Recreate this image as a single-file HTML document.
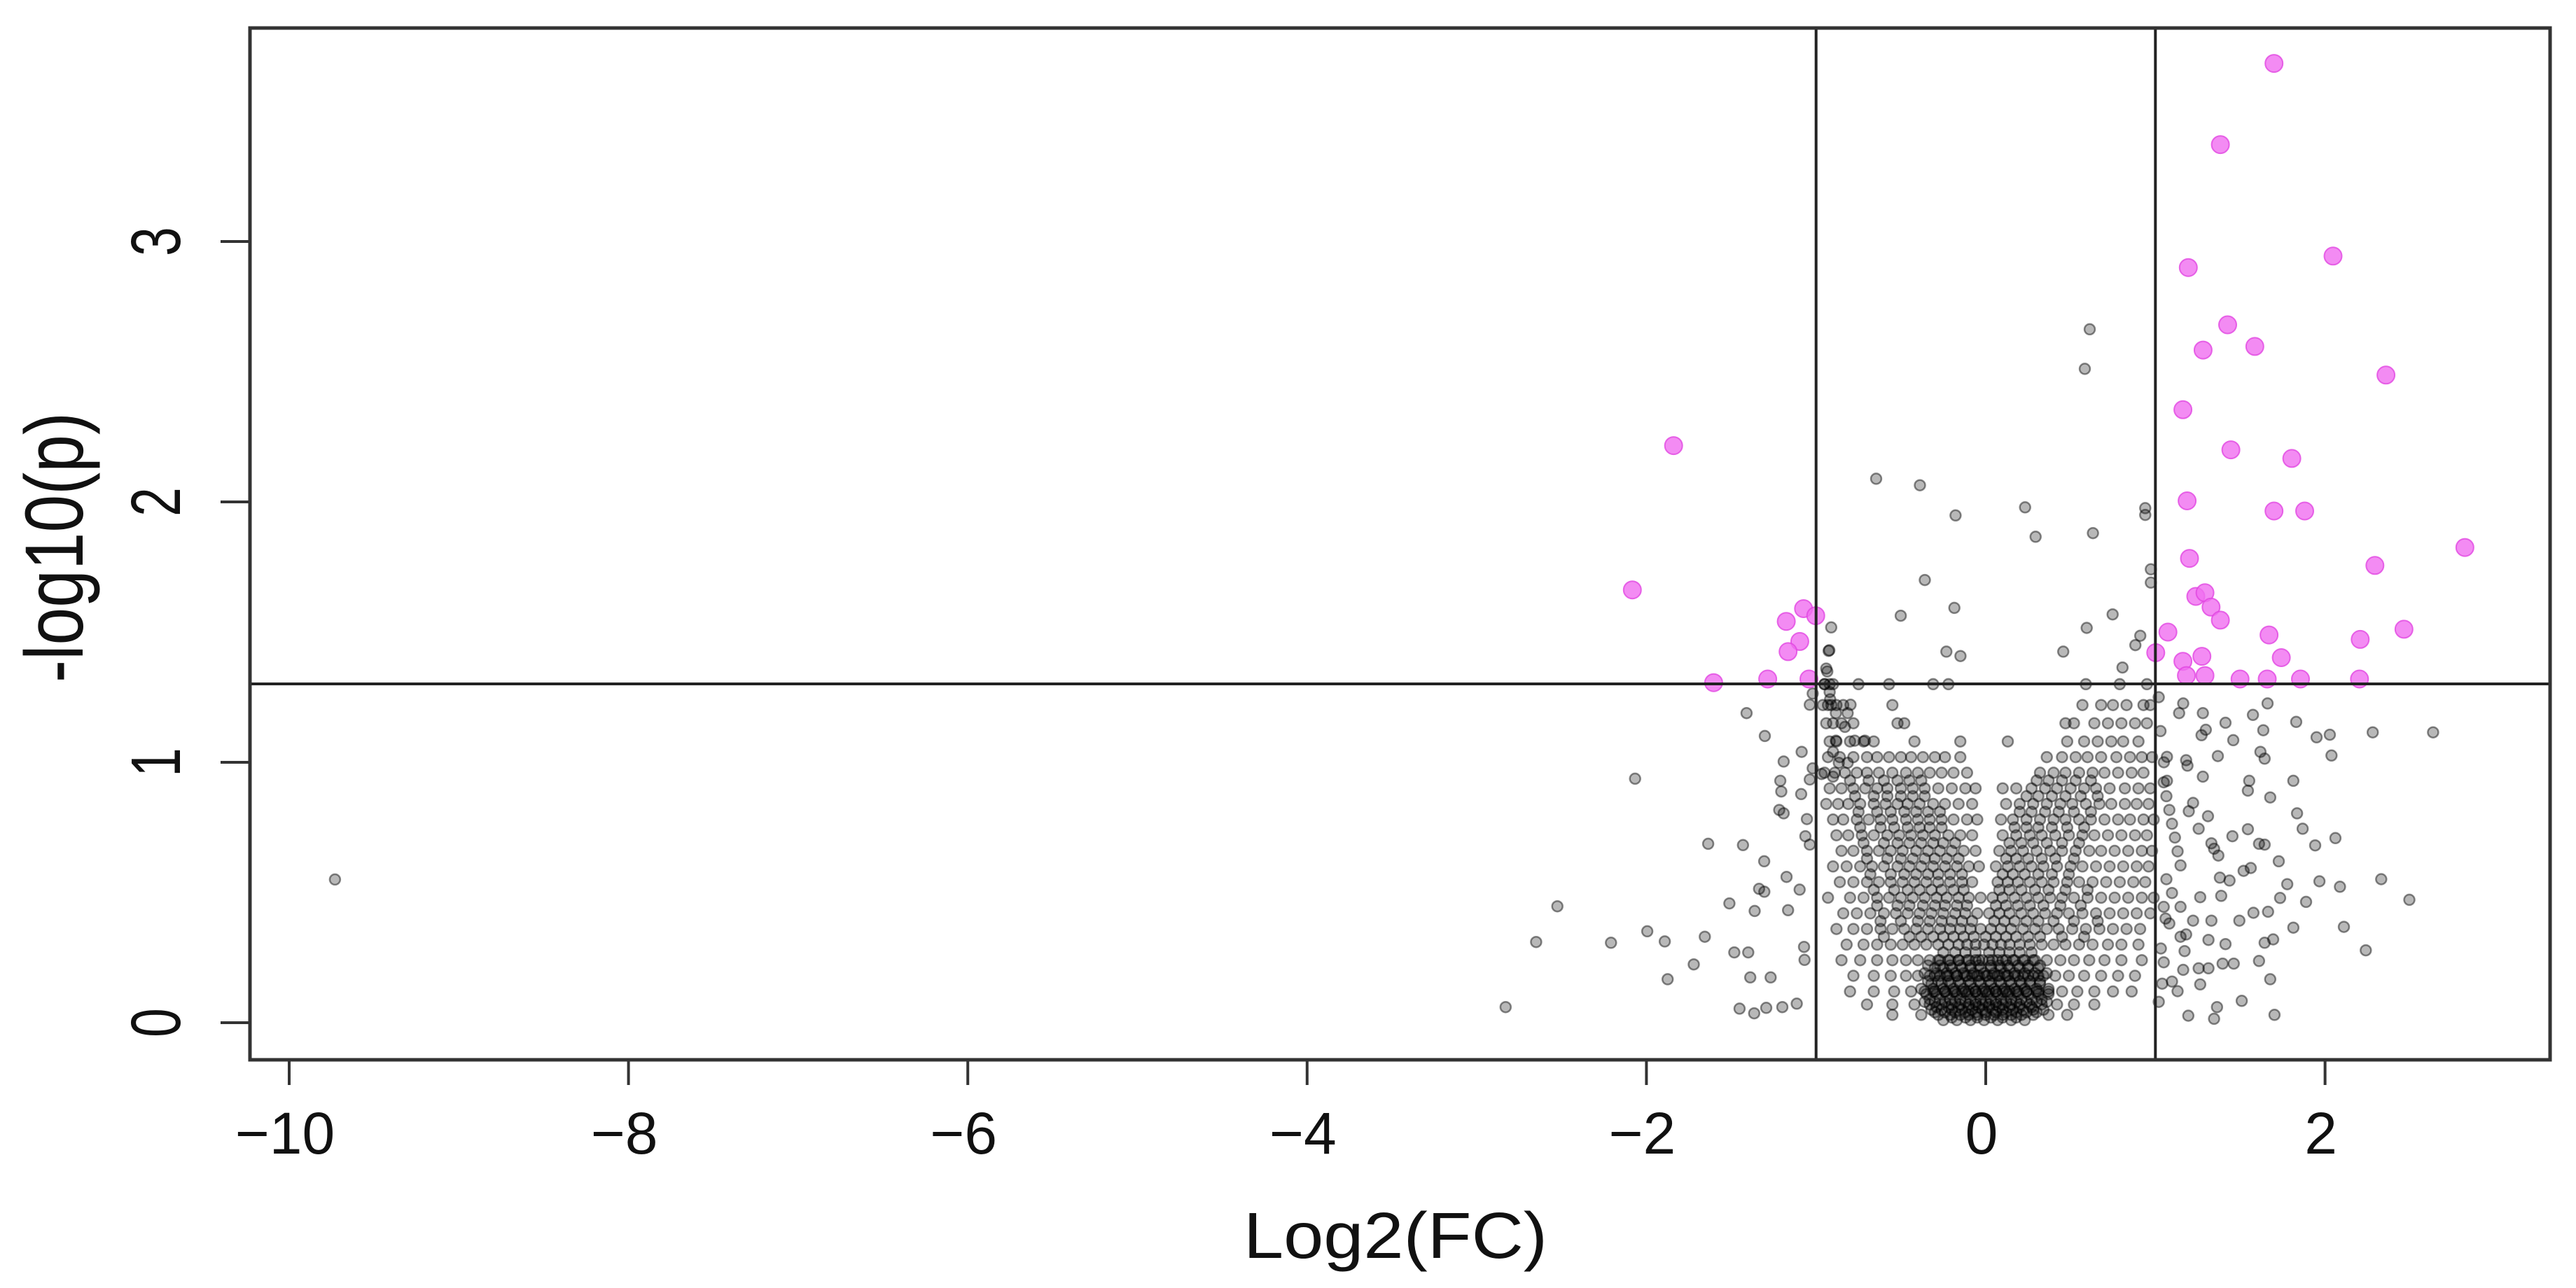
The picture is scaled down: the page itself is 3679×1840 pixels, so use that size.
<!DOCTYPE html>
<html><head><meta charset="utf-8"><style>
html,body{margin:0;padding:0;background:#fff;}
svg{display:block;}
text{font-family:"Liberation Sans",sans-serif;fill:#111;}
</style></head><body>
<svg id="chart" width="3679" height="1840" viewBox="0 0 3679 1840" xmlns="http://www.w3.org/2000/svg">
<rect x="0" y="0" width="3679" height="1840" fill="#fff"/>
<g id="gray"></g>
<g id="pink"></g>
<g id="axes"></g>
</svg>
<script>
// ---- data ----
const xTicks = [-10, -8, -6, -4, -2, 0, 2];
const xTickLabels = ["\u221210", "\u22128", "\u22126", "\u22124", "\u22122", "0", "2"];
const yTicks = [0, 1, 2, 3];
const yTickLabels = ["0", "1", "2", "3"];
const fcCutoffs = [-1, 1];
const pCutoff = 1.301;

const pinkX = [1.699,1.383,2.047,1.194,1.426,1.281,1.586,2.359,1.162,1.445,1.804,1.187,1.699,1.880,2.824,1.201,2.294,1.238,1.292,1.328,1.383,1.074,1.670,2.465,2.207,1.002,1.742,1.162,1.274,1.183,1.292,1.499,1.659,1.855,2.203,
 -1.840,-2.083,-1.074,-1.002,-1.176,-1.096,-1.165,-1.604,-1.285,-1.042];
const pinkY = [3.684,3.372,2.944,2.900,2.680,2.583,2.597,2.487,2.354,2.200,2.167,2.004,1.965,1.965,1.825,1.783,1.756,1.637,1.651,1.596,1.546,1.500,1.489,1.511,1.472,1.421,1.402,1.388,1.407,1.333,1.333,1.320,1.320,1.320,1.320,
 2.216,1.662,1.590,1.563,1.541,1.464,1.425,1.306,1.320,1.320];

const outerX = [-9.73,
 0.613,0.584,-0.646,-0.388,-0.178,0.232,0.294,0.632,0.940,0.94,-0.359,-0.501,-0.185,0.595,0.748,0.973,0.973,0.882,0.457,-0.232,-0.149,0.806,0.911,-0.911,-0.922,
 -1.410,-1.302,-1.191,-1.211,-1.205,-1.088,-1.217,-1.191,-1.085,-1.054,-1.063,-1.037,-2.067,-1.636,-1.431,-1.306,-1.174,-1.097,-1.336,-1.305,-1.511,-1.362,-1.165,-2.525,-2.650,-2.209,-1.995,-1.892,-1.656,-1.482,-1.400,-1.721,-1.875,-1.388,-1.268,-1.071,-1.068,-2.830,-1.451,-1.365,-1.294,-1.199,-1.114,-1.037,-1.02,
 -0.934,-0.917,-0.883,-0.926,-0.83,-0.814,-0.797,-0.772,-0.712,-0.883,-0.900,-0.866,-0.814,-0.968,-0.900,-1.02,-1.037,-0.95,-0.94,-0.92,
 1.164,1.140,1.28,1.413,1.575,1.661,1.830,1.636,1.297,1.272,1.459,1.950,2.028,2.281,2.637,1.368,1.068,1.181,1.189,1.619,1.644,2.038,1.068,1.28,1.553,1.545,1.813,1.677,1.222,1.197,1.310,1.835,1.868,2.061,1.942,1.255,1.545,1.454,1.33,1.371,1.346,1.611,1.644,1.727,1.562,1.52,1.38,1.437,1.777,1.967,2.088,2.331,2.497,1.735,1.888,1.388,1.264,1.578,1.664,1.495,1.33,1.222,1.813,2.111,1.644,1.694,1.413,1.313,1.172,2.24,1.148,1.611,1.462,1.396,1.313,1.255,1.164,1.677,1.264,1.098,1.131,1.509,1.363,1.194,1.346,1.702,
 1.049,1.065,1.082,1.098,1.115,1.131,1.148,1.065,1.098,1.049,1.148,1.082,1.181,1.032,1.049,1.02,1.03,1.05,1.04,1.02,1.06];
const outerY = [0.55,
 2.663,2.511,2.089,2.064,1.948,1.979,1.866,1.880,1.976,1.95,1.700,1.563,1.593,1.516,1.568,1.741,1.69,1.45,1.425,1.425,1.408,1.364,1.486,1.518,1.43,
 1.189,1.101,1.003,0.929,0.888,0.878,0.817,0.804,1.04,0.782,0.716,0.684,0.937,0.687,0.682,0.620,0.560,0.511,0.514,0.503,0.458,0.429,0.432,0.447,0.310,0.307,0.351,0.312,0.330,0.270,0.270,0.224,0.167,0.174,0.174,0.291,0.241,0.060,0.054,0.036,0.057,0.060,0.073,1.221,1.264,
 1.349,1.242,1.189,1.428,1.136,1.189,1.221,1.083,1.083,1.083,1.04,0.998,0.998,0.955,0.945,0.977,0.934,1.30,1.36,1.27,
 1.226,1.189,1.189,1.152,1.182,1.226,1.155,1.123,1.125,1.104,1.085,1.096,1.106,1.115,1.115,1.024,1.021,1.008,0.987,1.04,1.014,1.026,0.929,0.945,0.929,0.891,0.929,0.865,0.844,0.812,0.793,0.804,0.745,0.709,0.681,0.745,0.743,0.716,0.689,0.642,0.668,0.687,0.684,0.620,0.594,0.583,0.557,0.546,0.532,0.543,0.522,0.551,0.472,0.479,0.464,0.487,0.482,0.422,0.426,0.392,0.392,0.392,0.365,0.368,0.307,0.32,0.302,0.318,0.275,0.278,0.330,0.237,0.227,0.227,0.209,0.209,0.203,0.167,0.147,0.158,0.121,0.084,0.060,0.027,0.015,0.030,
 0.923,0.870,0.817,0.764,0.711,0.658,0.604,0.551,0.498,0.445,0.445,0.381,0.339,0.285,0.232,1.25,1.12,1.0,0.15,0.08,0.40];

const rowY = [1.30,1.22,1.15,1.08,1.02,0.96,0.90,0.84,0.78,0.72,0.66,0.60,0.54,0.48,0.42,0.36,0.30,0.24,0.18,0.12,0.07,0.03,
 0.27,0.21,0.15,0.09,0.04,0.01,0.24,0.18,0.12,0.06,0.02,
 0.19,0.13,0.08,0.16,0.11,0.05,0.22,0.33,0.39,0.45,0.51,0.57,0.63,0.69,0.75,0.81,0.87,0.93];
const rowX = [
 [-0.95,-0.92,-0.90,-0.75,-0.57,-0.31,-0.22,0.59,0.79,0.95],
 [-0.96,-0.93,-0.91,-0.88,-0.84,-0.55,0.57,0.68,0.75,0.83,0.93,0.97],
 [-0.94,-0.90,-0.85,-0.78,-0.52,-0.48,0.47,0.52,0.64,0.72,0.80,0.88,0.95],
 [-0.92,-0.88,-0.80,-0.72,-0.66,-0.42,-0.15,0.13,0.48,0.58,0.66,0.74,0.81,0.90],
 [-0.93,-0.86,-0.78,-0.70,-0.64,-0.57,-0.50,-0.44,-0.37,-0.30,-0.24,-0.15,0.36,0.45,0.53,0.60,0.68,0.77,0.85,0.92,0.98],
 [-0.95,-0.89,-0.83,-0.76,-0.70,-0.63,-0.55,-0.47,-0.40,-0.33,-0.26,-0.19,-0.11,0.32,0.40,0.47,0.55,0.63,0.70,0.78,0.86,0.93],
 [-0.92,-0.85,-0.78,-0.71,-0.64,-0.58,-0.50,-0.43,-0.36,-0.28,-0.20,-0.12,-0.06,0.10,0.18,0.27,0.35,0.42,0.50,0.58,0.65,0.73,0.82,0.90,0.97],
 [-0.94,-0.87,-0.81,-0.74,-0.66,-0.59,-0.52,-0.46,-0.39,-0.31,-0.24,-0.16,-0.08,0.12,0.20,0.28,0.36,0.44,0.51,0.59,0.67,0.74,0.82,0.89,0.96],
 [-0.90,-0.84,-0.76,-0.69,-0.62,-0.55,-0.47,-0.40,-0.33,-0.26,-0.19,-0.11,-0.05,0.09,0.16,0.24,0.32,0.40,0.47,0.55,0.62,0.70,0.78,0.85,0.93,0.99],
 [-0.88,-0.81,-0.73,-0.66,-0.58,-0.51,-0.44,-0.37,-0.30,-0.22,-0.15,-0.08,0.10,0.18,0.26,0.33,0.41,0.49,0.57,0.64,0.72,0.80,0.88,0.95],
 [-0.85,-0.78,-0.70,-0.63,-0.56,-0.49,-0.41,-0.34,-0.27,-0.20,-0.13,-0.06,0.08,0.15,0.22,0.30,0.38,0.45,0.53,0.61,0.68,0.76,0.84,0.92,0.98],
 [-0.90,-0.82,-0.74,-0.67,-0.60,-0.52,-0.45,-0.38,-0.31,-0.24,-0.17,-0.10,-0.04,0.06,0.13,0.20,0.27,0.34,0.42,0.50,0.57,0.65,0.73,0.81,0.89,0.96],
 [-0.86,-0.78,-0.70,-0.63,-0.56,-0.49,-0.42,-0.35,-0.28,-0.21,-0.14,-0.08,0.07,0.13,0.19,0.26,0.33,0.40,0.48,0.55,0.63,0.71,0.79,0.87,0.94],
 [-0.93,-0.80,-0.72,-0.64,-0.57,-0.50,-0.43,-0.36,-0.29,-0.23,-0.16,-0.10,-0.03,0.04,0.10,0.17,0.24,0.31,0.38,0.45,0.52,0.60,0.68,0.76,0.84,0.92,0.99],
 [-0.84,-0.76,-0.68,-0.60,-0.53,-0.46,-0.39,-0.32,-0.25,-0.18,-0.12,-0.05,0.02,0.08,0.14,0.21,0.28,0.35,0.42,0.49,0.57,0.65,0.73,0.81,0.89,0.97],
 [-0.88,-0.78,-0.70,-0.62,-0.55,-0.48,-0.41,-0.34,-0.27,-0.21,-0.15,-0.09,-0.03,0.03,0.09,0.15,0.22,0.29,0.36,0.43,0.51,0.59,0.67,0.75,0.83,0.91],
 [-0.82,-0.72,-0.64,-0.56,-0.49,-0.42,-0.35,-0.28,-0.22,-0.16,-0.11,-0.06,-0.01,0.04,0.09,0.14,0.20,0.26,0.33,0.40,0.47,0.55,0.63,0.72,0.80,0.90],
 [-0.85,-0.74,-0.64,-0.55,-0.47,-0.40,-0.33,-0.27,-0.21,-0.16,-0.11,-0.06,-0.02,0.02,0.07,0.12,0.17,0.23,0.29,0.36,0.44,0.52,0.61,0.70,0.80,0.92],
 [-0.78,-0.66,-0.56,-0.47,-0.40,-0.33,-0.27,-0.22,-0.17,-0.12,-0.08,-0.04,0.00,0.04,0.08,0.12,0.17,0.22,0.28,0.34,0.41,0.49,0.58,0.68,0.78,0.88],
 [-0.80,-0.66,-0.54,-0.44,-0.36,-0.30,-0.24,-0.19,-0.14,-0.10,-0.06,-0.02,0.02,0.06,0.10,0.14,0.19,0.24,0.30,0.37,0.45,0.54,0.64,0.75,0.86],
 [-0.70,-0.55,-0.42,-0.33,-0.26,-0.20,-0.15,-0.10,-0.06,-0.02,0.02,0.06,0.10,0.15,0.20,0.26,0.33,0.42,0.52,0.64],
 [-0.55,-0.38,-0.28,-0.21,-0.15,-0.10,-0.05,0.00,0.05,0.10,0.15,0.21,0.28,0.37,0.48],
 [-0.25,-0.18,-0.12,-0.06,0.02,0.08,0.14,0.20,0.27],
 [-0.30,-0.25,-0.20,-0.14,-0.09,-0.03,0.03,0.09,0.14,0.20,0.25,0.31],
 [-0.32,-0.26,-0.21,-0.15,-0.09,-0.03,0.03,0.09,0.15,0.21,0.26,0.32],
 [-0.33,-0.27,-0.21,-0.15,-0.09,-0.03,0.03,0.09,0.15,0.21,0.27,0.33],
 [-0.30,-0.24,-0.18,-0.12,-0.06,0.00,0.06,0.12,0.18,0.24,0.30],
 [-0.25,-0.17,-0.09,-0.01,0.07,0.15,0.23],
 [-0.28,-0.22,-0.16,-0.10,-0.04,0.04,0.10,0.16,0.22,0.28],
 [-0.30,-0.23,-0.17,-0.11,-0.05,0.01,0.07,0.13,0.19,0.25,0.31],
 [-0.31,-0.24,-0.18,-0.12,-0.06,0.00,0.06,0.12,0.18,0.24,0.31],
 [-0.29,-0.22,-0.16,-0.10,-0.04,0.02,0.08,0.14,0.20,0.27],
 [-0.20,-0.12,-0.05,0.03,0.10,0.18],
 [-0.36,-0.29,-0.23,-0.18,-0.13,-0.07,-0.01,0.05,0.11,0.17,0.23,0.29,0.36],
 [-0.38,-0.31,-0.25,-0.19,-0.13,-0.07,-0.01,0.05,0.11,0.17,0.23,0.30,0.37],
 [-0.36,-0.30,-0.24,-0.18,-0.12,-0.06,0.00,0.06,0.12,0.18,0.24,0.30,0.36],
 [-0.34,-0.28,-0.22,-0.16,-0.10,-0.04,0.02,0.08,0.14,0.20,0.26,0.32],
 [-0.35,-0.29,-0.23,-0.17,-0.11,-0.05,0.01,0.07,0.13,0.19,0.25,0.31,0.37],
 [-0.32,-0.26,-0.20,-0.14,-0.08,-0.02,0.04,0.10,0.16,0.22,0.28,0.34],
 [-0.34,-0.27,-0.21,-0.15,-0.09,-0.04,0.03,0.08,0.13,0.19,0.25,0.32],
 [-0.60,-0.45,-0.38,-0.31,-0.25,-0.19,-0.13,-0.07,0.00,0.06,0.12,0.18,0.25,0.32,0.45,0.58],
 [-0.62,-0.50,-0.40,-0.33,-0.26,-0.20,-0.14,-0.08,0.05,0.11,0.17,0.24,0.31,0.40,0.52,0.66],
 [-0.64,-0.52,-0.45,-0.37,-0.30,-0.24,-0.17,-0.11,0.06,0.12,0.19,0.26,0.34,0.44,0.56],
 [-0.66,-0.54,-0.46,-0.39,-0.32,-0.26,-0.19,-0.13,0.08,0.14,0.21,0.29,0.37,0.47,0.60],
 [-0.68,-0.56,-0.48,-0.41,-0.34,-0.28,-0.21,-0.14,0.10,0.16,0.23,0.31,0.39,0.49],
 [-0.70,-0.58,-0.50,-0.43,-0.36,-0.30,-0.23,-0.16,0.12,0.18,0.25,0.33,0.41,0.52],
 [-0.72,-0.60,-0.52,-0.45,-0.38,-0.31,-0.25,-0.18,0.14,0.21,0.28,0.36,0.45,0.55],
 [-0.74,-0.62,-0.54,-0.46,-0.39,-0.33,-0.26,0.17,0.24,0.31,0.39,0.48,0.58],
 [-0.75,-0.64,-0.56,-0.48,-0.41,-0.34,-0.27,0.20,0.27,0.35,0.43,0.52,0.62],
 [-0.77,-0.66,-0.58,-0.50,-0.43,-0.36,0.24,0.31,0.39,0.47,0.56,0.66],
 [-0.80,-0.69,-0.60,-0.52,-0.45,-0.38,0.30,0.37,0.45,0.53,0.62]
];

// ---- axis functions ----
const X0 = 2836, XU = 242.3, Y0 = 1461, YU = 372;
const xs = v => X0 + v * XU;
const ys = v => Y0 - v * YU;
const L = 357, R = 3642, T = 40, B = 1514;
const NS = "http://www.w3.org/2000/svg";
function mk(tag, attrs, parent) {
  const el = document.createElementNS(NS, tag);
  for (const k in attrs) el.setAttribute(k, attrs[k]);
  parent.appendChild(el);
  return el;
}
const gGray = document.getElementById('gray');
const gPink = document.getElementById('pink');
const gAx = document.getElementById('axes');

function grayDot(x, y) {
  const c = mk('circle', {cx: xs(x).toFixed(1), cy: ys(y).toFixed(1), r: 7.5, fill: 'rgba(0,0,0,0.28)', stroke: 'rgba(0,0,0,0.45)', 'stroke-width': 2.5}, gGray);
  
  
}
for (let i = 0; i < outerX.length; i++) grayDot(outerX[i], outerY[i]);
const nRows = Math.min(rowY.length, rowX.length);
for (let r = 0; r < nRows; r++) for (const x of rowX[r]) grayDot(x, rowY[r]);

for (let i = 0; i < pinkX.length; i++) {
  const c = mk('circle', {cx: xs(pinkX[i]).toFixed(1), cy: ys(pinkY[i]).toFixed(1), r: 12.5, fill: 'rgba(240,110,240,0.8)', stroke: 'rgba(225,70,225,0.8)', 'stroke-width': 2}, gPink);
  
  
}

// threshold lines
for (const v of fcCutoffs) {
  const l = mk('line', {x1: xs(v), x2: xs(v), y1: T, y2: B, stroke: '#222', 'stroke-width': 4}, gAx);
  
  
}
const hl = mk('line', {x1: L, x2: R, y1: ys(pCutoff), y2: ys(pCutoff), stroke: '#222', 'stroke-width': 4}, gAx);



// frame
const fr = mk('rect', {x: L, y: T, width: R - L, height: B - T, fill: 'none', stroke: '#333', 'stroke-width': 5}, gAx);



// x ticks
for (let i = 0; i < xTicks.length; i++) {
  const x = xs(xTicks[i]);
  const t = mk('line', {x1: x, x2: x, y1: B, y2: B + 36, stroke: '#333', 'stroke-width': 4}, gAx);
  
  
  const lb = mk('text', {x: x - 6, y: 1648, 'text-anchor': 'middle', 'font-size': 84}, gAx);
  lb.textContent = xTickLabels[i];
  
  
}
// y ticks
for (let i = 0; i < yTicks.length; i++) {
  const y = ys(yTicks[i]);
  const t = mk('line', {x1: L - 42, x2: L, y1: y, y2: y, stroke: '#333', 'stroke-width': 4}, gAx);
  
  
  const lb = mk('text', {x: 0, y: 0, 'text-anchor': 'middle', 'font-size': 100, transform: `translate(257,${y}) rotate(-90) scale(0.75,1)`}, gAx);
  lb.textContent = yTickLabels[i];
  
  
}
// titles
const xt = mk('text', {x: 1776, y: 1797, 'font-size': 93, textLength: 434, lengthAdjust: 'spacingAndGlyphs'}, gAx);
xt.textContent = 'Log2(FC)';


const yt = mk('text', {x: 0, y: 0, 'font-size': 118, textLength: 386, lengthAdjust: 'spacingAndGlyphs', transform: 'translate(118,975) rotate(-90)'}, gAx);
yt.textContent = '-log10(p)';


</script>
</body></html>
